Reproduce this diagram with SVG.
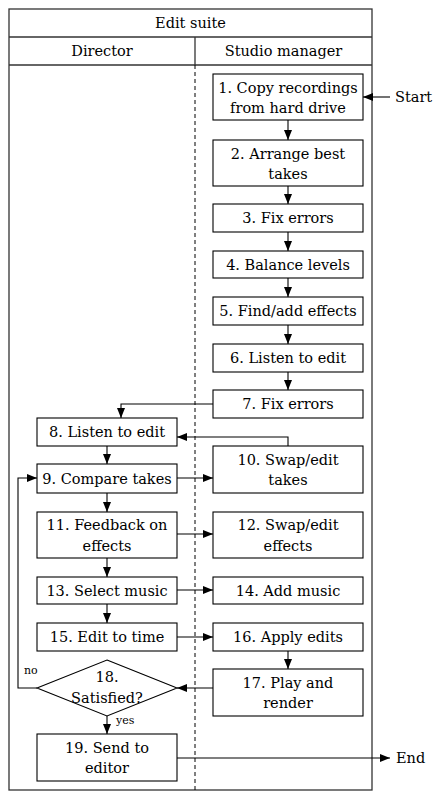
<svg xmlns="http://www.w3.org/2000/svg" width="447" height="801" viewBox="0 0 447 801">
<defs>
<marker id="ah" viewBox="0 0 10 8" refX="10" refY="4" markerWidth="10" markerHeight="8" markerUnits="userSpaceOnUse" orient="auto">
<path d="M0,0 L10,4 L0,8 Z" fill="#000"/>
</marker>
<style>
.t{font-family:'DejaVu Serif',serif;font-size:14.5px;fill:#000;text-anchor:middle}
.s{font-family:'DejaVu Serif',serif;font-size:11px;fill:#000}
.b{fill:#fff;stroke:#000;stroke-width:1.1}
.f{fill:none;stroke:#333;stroke-width:1.3}
.a{fill:none;stroke:#000;stroke-width:1.1;marker-end:url(#ah)}
</style>
</defs>
<rect width="447" height="801" fill="#fff"/>
<g id="frame">
<rect class="f" x="9" y="9" width="363" height="781"/>
<line class="f" x1="9" y1="37" x2="372" y2="37"/>
<line class="f" x1="9" y1="65" x2="372" y2="65"/>
<line class="f" x1="195" y1="37" x2="195" y2="65"/>
<line x1="195" y1="65" x2="195" y2="790" stroke="#000" stroke-width="1" stroke-dasharray="4,3"/>
<text class="t" x="190.5" y="28">Edit suite</text>
<text class="t" x="102" y="56">Director</text>
<text class="t" x="283.5" y="56">Studio manager</text>
</g>
<g id="connectors">
<path class="a" d="M390,97 H363"/>
<path class="a" d="M288,120 V140"/>
<path class="a" d="M288,186 V204"/>
<path class="a" d="M288,232 V251"/>
<path class="a" d="M288,278 V297"/>
<path class="a" d="M288,325 V344"/>
<path class="a" d="M288,372 V390"/>
<path class="a" d="M213,404 H121 V418"/>
<path class="a" d="M288,446 V437 H177"/>
<path class="a" d="M107,446 V464"/>
<path class="a" d="M177,478 H213"/>
<path class="a" d="M107,493 V512"/>
<path class="a" d="M177,534 H213"/>
<path class="a" d="M107,558 V577"/>
<path class="a" d="M177,590 H213"/>
<path class="a" d="M107,604 V623"/>
<path class="a" d="M177,637 H213"/>
<path class="a" d="M288,651 V669"/>
<path class="a" d="M213,688 H177"/>
<path class="a" d="M37,688 H18 V478 H37"/>
<path class="a" d="M107,716 V734"/>
<path class="a" d="M177,758 H390"/>
<text class="s" x="24" y="674">no</text>
<text class="s" x="116" y="724">yes</text>
<text class="t" x="395" y="102" style="text-anchor:start">Start</text>
<text class="t" x="396" y="763" style="text-anchor:start">End</text>
</g>
<g id="n1"><rect class="b" x="213" y="74" width="150" height="46"/><text class="t" x="288" y="93">1. Copy recordings</text><text class="t" x="288" y="113">from hard drive</text></g>
<g id="n2"><rect class="b" x="213" y="140" width="150" height="46"/><text class="t" x="288" y="159">2. Arrange best</text><text class="t" x="288" y="179">takes</text></g>
<g id="n3"><rect class="b" x="213" y="204" width="150" height="28"/><text class="t" x="288" y="223">3. Fix errors</text></g>
<g id="n4"><rect class="b" x="213" y="251" width="150" height="27"/><text class="t" x="288" y="270">4. Balance levels</text></g>
<g id="n5"><rect class="b" x="213" y="297" width="150" height="28"/><text class="t" x="288" y="316">5. Find/add effects</text></g>
<g id="n6"><rect class="b" x="213" y="344" width="150" height="28"/><text class="t" x="288" y="363">6. Listen to edit</text></g>
<g id="n7"><rect class="b" x="213" y="390" width="150" height="28"/><text class="t" x="288" y="409">7. Fix errors</text></g>
<g id="n8"><rect class="b" x="37" y="418" width="140" height="28"/><text class="t" x="107" y="437">8. Listen to edit</text></g>
<g id="n9"><rect class="b" x="37" y="464" width="140" height="29"/><text class="t" x="107" y="484">9. Compare takes</text></g>
<g id="n10"><rect class="b" x="213" y="446" width="150" height="47"/><text class="t" x="288" y="465">10. Swap/edit</text><text class="t" x="288" y="485">takes</text></g>
<g id="n11"><rect class="b" x="37" y="512" width="140" height="46"/><text class="t" x="107" y="530">11. Feedback on</text><text class="t" x="107" y="551">effects</text></g>
<g id="n12"><rect class="b" x="213" y="512" width="150" height="46"/><text class="t" x="288" y="530">12. Swap/edit</text><text class="t" x="288" y="551">effects</text></g>
<g id="n13"><rect class="b" x="37" y="577" width="140" height="27"/><text class="t" x="107" y="596">13. Select music</text></g>
<g id="n14"><rect class="b" x="213" y="577" width="150" height="27"/><text class="t" x="288" y="596">14. Add music</text></g>
<g id="n15"><rect class="b" x="37" y="623" width="140" height="28"/><text class="t" x="107" y="642">15. Edit to time</text></g>
<g id="n16"><rect class="b" x="213" y="623" width="150" height="28"/><text class="t" x="288" y="642">16. Apply edits</text></g>
<g id="n17"><rect class="b" x="213" y="669" width="150" height="47"/><text class="t" x="288" y="688">17. Play and</text><text class="t" x="288" y="708">render</text></g>
<g id="n18"><polygon class="b" points="107,660 177,688 107,716 37,688"/><text class="t" x="107" y="682">18.</text><text class="t" x="107" y="703">Satisfied?</text></g>
<g id="n19"><rect class="b" x="37" y="734" width="140" height="47"/><text class="t" x="107" y="753">19. Send to</text><text class="t" x="107" y="773">editor</text></g>
</svg>
